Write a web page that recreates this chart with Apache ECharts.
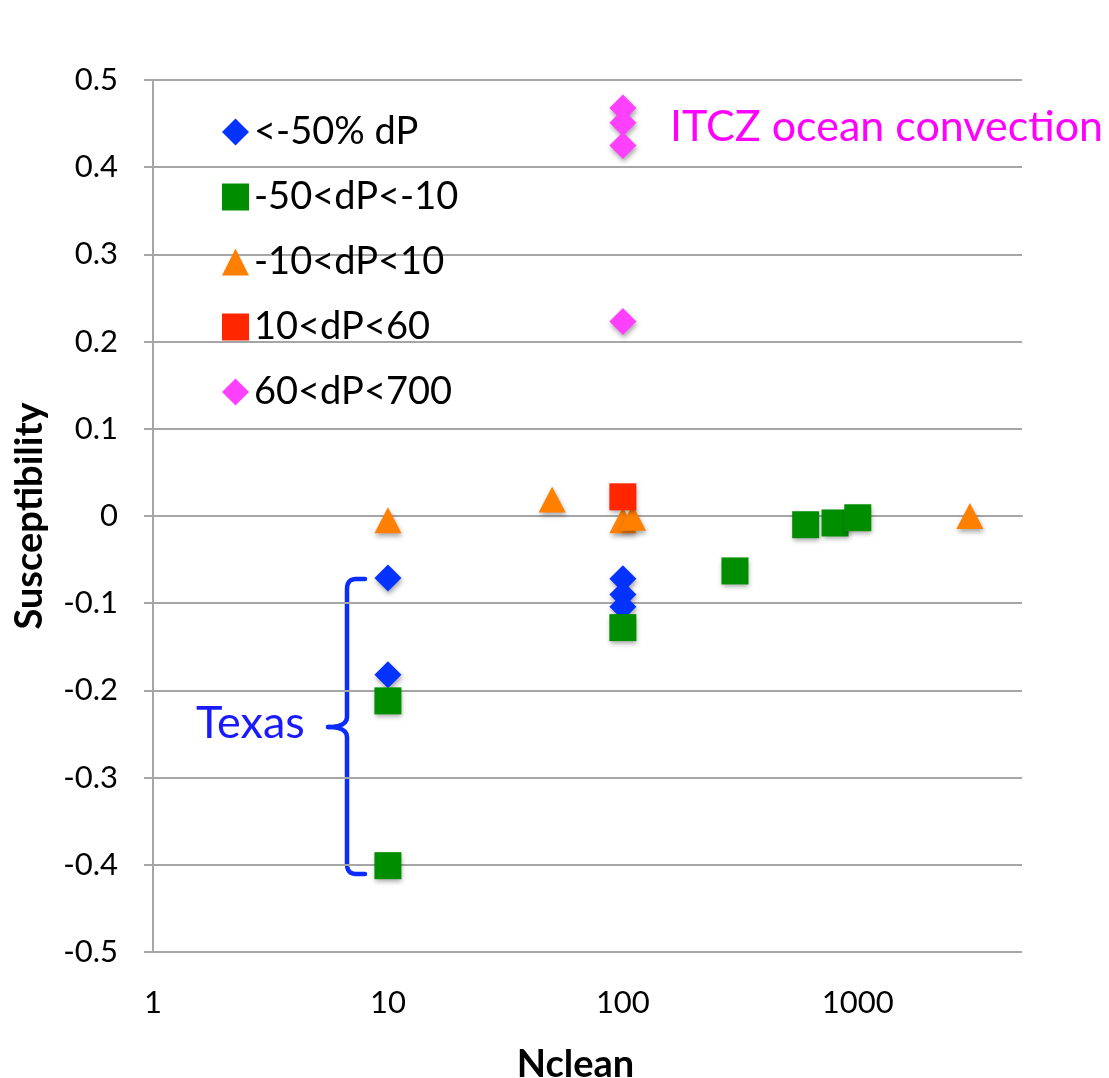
<!DOCTYPE html>
<html><head><meta charset="utf-8">
<script src="https://cdn.jsdelivr.net/npm/echarts@6/dist/echarts.min.js"></script>
<style>html,body{margin:0;padding:0;background:#fff}#c{width:1109px;height:1078px}</style>
</head><body><div id="c"></div>
<script>
// ---- data (Nclean, Susceptibility) ----
const seriesNames = ['<-50% dP', '-50<dP<-10', '-10<dP<10', '10<dP<60', '60<dP<700'];
const blueX = [10, 10, 100, 100, 100];
const blueY = [-0.071, -0.182, -0.072, -0.090, -0.104];
const greenX = [10, 10, 100, 300, 600, 800, 1000];
const greenY = [-0.212, -0.401, -0.128, -0.063, -0.010, -0.008, -0.002];
const orangeX = [10, 50, 100, 110, 3000];
const orangeY = [-0.005, 0.019, -0.005, -0.002, 0.0];
const redX = [100];
const redY = [0.022];
const magentaX = [100, 100, 100, 100];
const magentaY = [0.468, 0.451, 0.425, 0.223];
const xTicks = [1, 10, 100, 1000];
const yTicks = [-0.5, -0.4, -0.3, -0.2, -0.1, 0, 0.1, 0.2, 0.3, 0.4, 0.5];

const colors = ['#0433ff', '#008e00', '#ff7f00', '#ff2600', '#ff40ff'];
const symbols = ['diamond', 'rect', 'triangle', 'rect', 'diamond'];
const xs = [blueX, greenX, orangeX, redX, magentaX];
const ys = [blueY, greenY, orangeY, redY, magentaY];

const chart = echarts.init(document.getElementById('c'), null, {renderer: 'canvas'});
const grid = '#a6a6a6';
const shadow = {shadowColor: 'rgba(0,0,0,0.35)', shadowBlur: 5, shadowOffsetX: 1, shadowOffsetY: 3};

// brace annotation helper: sample quadratic curves into polyline points
function quad(p0, c, p1, n) {
  const pts = [];
  for (let i = 1; i <= n; i++) {
    const t = i / n, u = 1 - t;
    pts.push([u*u*p0[0] + 2*u*t*c[0] + t*t*p1[0], u*u*p0[1] + 2*u*t*c[1] + t*t*p1[1]]);
  }
  return pts;
}
const braceTop = [[365, 579], [356, 579]]
  .concat(quad([356, 579], [347, 579], [347, 589], 6))
  .concat([[347, 717]])
  .concat(quad([347, 717], [347, 727], [328, 727], 6));
const braceBot = [[328, 727]]
  .concat(quad([328, 727], [347, 727], [347, 737], 6))
  .concat([[347, 864]])
  .concat(quad([347, 864], [347, 874], [356, 874], 6))
  .concat([[365, 874]]);

chart.setOption({
  animation: false,
  backgroundColor: '#fff',
  grid: {left: 153, right: 87, top: 80, bottom: 126, containLabel: false, outerBoundsMode: 'none'},
  xAxis: {
    type: 'log', logBase: 10, min: 1, max: 5000,
    name: 'Nclean', nameLocation: 'middle', nameGap: 94,
    nameTextStyle: {fontFamily: 'Lato', fontWeight: 'bold', fontSize: 38, color: '#000', padding: [0, 24, 0, 0]},
    axisLine: {lineStyle: {color: grid, width: 2}},
    axisTick: {show: true, length: 11, lineStyle: {color: grid, width: 2}},
    splitLine: {show: false},
    axisLabel: {
      fontFamily: 'Lato', fontSize: 31, color: '#000', margin: 35,
      showMaxLabel: false,
      formatter: v => (xTicks.indexOf(Math.round(v)) >= 0 ? String(Math.round(v)) : '')
    }
  },
  yAxis: {
    type: 'value', min: -0.5, max: 0.5, interval: 0.1,
    name: 'Susceptibility', nameLocation: 'middle', nameGap: 104, nameRotate: 90,
    nameTextStyle: {fontFamily: 'Lato', fontWeight: 'bold', fontSize: 38, color: '#000'},
    axisLine: {show: true, lineStyle: {color: grid, width: 2}},
    axisTick: {show: true, length: 9, lineStyle: {color: grid, width: 2}},
    splitLine: {show: true, lineStyle: {color: grid, width: 2}},
    axisLabel: {
      fontFamily: 'Lato', fontSize: 31, color: '#000', margin: 35,
      formatter: v => {
        const r = Math.round(v * 10) / 10;
        return yTicks.indexOf(r) >= 0 ? String(r) : '';
      }
    }
  },
  legend: {
    orient: 'vertical', left: 217, top: 108,
    itemWidth: 27, itemHeight: 27, itemGap: 27,
    textStyle: {fontFamily: 'Lato', fontSize: 38, color: '#000', lineHeight: 37},
    data: seriesNames.map((n, i) => ({name: n, icon: symbols[i]}))
  },
  series: seriesNames.map((n, i) => ({
    name: n, type: 'scatter',
    symbol: symbols[i], symbolSize: i === 2 ? [27, 26] : 27,
    itemStyle: Object.assign({color: colors[i], opacity: 1}, shadow),
    emphasis: {disabled: true},
    data: xs[i].map((x, k) => [x, ys[i][k]])
  })),
  graphic: [
    {type: 'text', x: 670, y: 127, style: {text: 'ITCZ ocean convection', fill: '#ff00ff',
      font: '43px Lato', verticalAlign: 'middle', align: 'left'}},
    {type: 'text', x: 196, y: 723, style: {text: 'Texas', fill: '#1a1aff',
      font: '45px Lato', verticalAlign: 'middle', align: 'left'}},
    {type: 'polyline', shape: {points: braceTop},
      style: {fill: null, stroke: '#0a2cff', lineWidth: 4.5, lineCap: 'round', lineJoin: 'round'}},
    {type: 'polyline', shape: {points: braceBot},
      style: {fill: null, stroke: '#0a2cff', lineWidth: 4.5, lineCap: 'round', lineJoin: 'round'}}
  ]
});
</script></body></html>
